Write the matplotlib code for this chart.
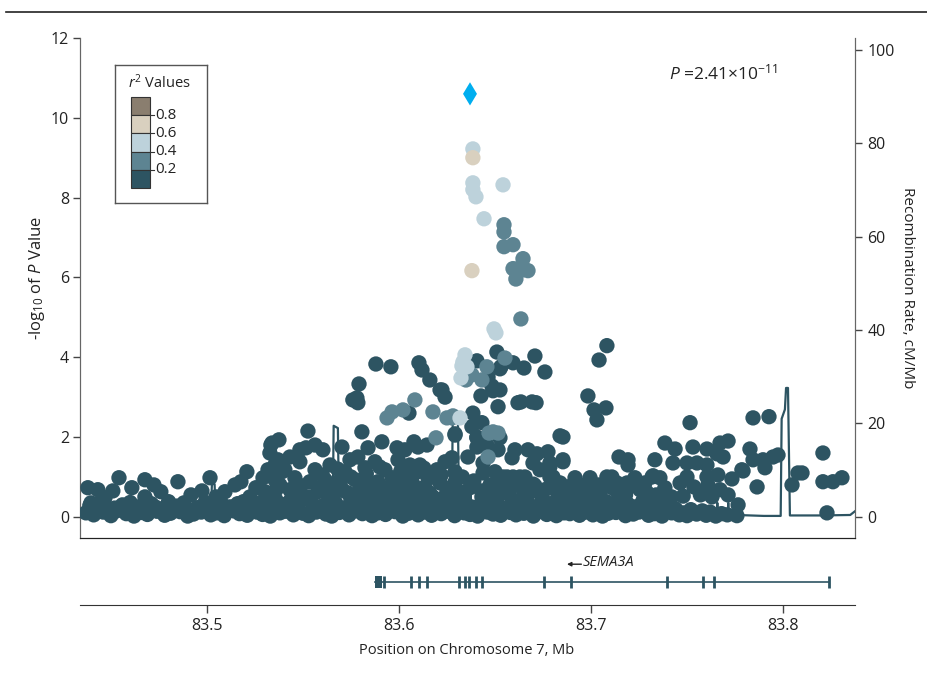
import matplotlib
matplotlib.use("Agg")
import matplotlib.pyplot as plt
from matplotlib.patches import Rectangle

plt.rcParams['font.family'] = ['Open Sans', 'DejaVu Sans']
plt.rcParams['mathtext.fontset'] = 'custom'
plt.rcParams['mathtext.rm'] = 'Open Sans'
plt.rcParams['mathtext.it'] = 'Open Sans:italic'

# r2 colour classes, 0-0.2 ... 0.8-1.0
r2_colors = ['#2d5462', '#5d8492', '#bdd2db', '#d9d0bf', '#8a7e6f']
r2_ticks = ['0.2', '0.4', '0.6', '0.8']
lead_color = '#00aeef'

# index SNP (position Mb, -log10 P)
lead_snp = (83.637, 10.60)

beige_snps = [(83.6385, 9.00), (83.6380, 6.17)]

light_snps = [(83.6385, 9.22), (83.6385, 8.37), (83.6542, 8.32), (83.6385, 8.20),
              (83.6401, 8.02), (83.6443, 7.47), (83.6495, 4.71), (83.6505, 4.61),
              (83.6344, 4.06), (83.6333, 3.88), (83.6328, 3.78), (83.6354, 3.76),
              (83.6323, 3.48), (83.6318, 2.48)]

mid_snps = [(83.6547, 7.32), (83.6547, 7.14), (83.6547, 6.77), (83.6594, 6.82),
            (83.6646, 6.47), (83.6594, 6.22), (83.6620, 6.22), (83.6646, 6.19),
            (83.6672, 6.17), (83.6609, 5.96), (83.6635, 4.96), (83.6552, 3.98),
            (83.6380, 3.56), (83.6349, 3.43), (83.6432, 3.43), (83.6458, 3.76),
            (83.6276, 2.48), (83.6490, 2.13), (83.6516, 2.10), (83.6469, 2.10),
            (83.6464, 1.50), (83.6083, 2.93), (83.5964, 2.63), (83.5938, 2.48),
            (83.6021, 2.68), (83.6177, 2.63), (83.6250, 2.48), (83.6281, 2.53),
            (83.6193, 1.98)]

dark_snps = [
    # around the peak
    (83.6406, 3.91), (83.6510, 4.13), (83.6531, 3.76), (83.6594, 3.86), (83.6651, 3.73),
    (83.6708, 4.03), (83.6760, 3.63), (83.6464, 3.50), (83.6484, 3.28), (83.6490, 3.16),
    (83.6526, 3.18), (83.6427, 3.03), (83.6516, 2.76), (83.6620, 2.86), (83.6635, 2.88),
    (83.6693, 2.88), (83.6714, 2.86), (83.6385, 2.60), (83.6240, 3.00), (83.6214, 3.18),
    (83.6292, 2.08), (83.6380, 2.26), (83.6432, 2.36), (83.6406, 1.98), (83.6276, 1.48),
    (83.6359, 1.50), (83.6839, 2.03), (83.6854, 2.00), (83.6516, 1.68), (83.6604, 1.68),
    (83.6672, 1.68), (83.6776, 1.63), (83.6589, 1.48), (83.6854, 1.43), (83.6292, 1.13),
    (83.6438, 1.10), (83.6563, 1.00), (83.6630, 1.00), (83.6708, 0.78), (83.6786, 1.00),
    (83.6906, 0.80), (83.6432, 0.50), (83.6526, 0.58), (83.7083, 4.29), (83.7042, 3.93),
    (83.6984, 3.03), (83.7016, 2.68), (83.7078, 2.73), (83.7031, 2.43), (83.6526, 3.71),
    (83.6526, 1.98), (83.6406, 2.00), (83.6406, 1.75), (83.6458, 1.80), (83.6438, 1.35),
    (83.6719, 1.58), (83.6786, 1.35), (83.6698, 1.35), (83.6500, 1.13), (83.6542, 1.00),
    (83.6594, 1.00), (83.6656, 1.00), (83.6734, 1.18), (83.6802, 1.00), (83.6786, 1.25),
    (83.6760, 0.68), (83.6823, 0.63), (83.6875, 0.60), (83.6953, 0.60), (83.7036, 0.80),
    (83.7083, 1.00), (83.7146, 1.50), (83.7193, 1.43), (83.7193, 1.30), (83.7333, 1.43),
    (83.7318, 1.00), (83.7135, 0.85), (83.7188, 0.85), (83.7255, 0.68), (83.6323, 0.55),
    (83.6854, 1.38), (83.6974, 0.78),
    # right side
    (83.7516, 2.36), (83.7385, 1.85), (83.7438, 1.70), (83.7531, 1.75), (83.7604, 1.70),
    (83.7672, 1.85), (83.7714, 1.90), (83.7656, 1.58), (83.7688, 1.50), (83.7844, 2.48),
    (83.7927, 2.51), (83.7828, 1.70), (83.7844, 1.43), (83.7896, 1.43), (83.7948, 1.50),
    (83.7974, 1.55), (83.7906, 1.23), (83.7792, 1.15), (83.7734, 0.95), (83.7865, 0.75),
    (83.8208, 1.60), (83.8208, 0.88), (83.8260, 0.88), (83.8307, 0.98), (83.8229, 0.10),
    (83.8047, 0.80), (83.8078, 1.10), (83.8099, 1.10), (83.7109, 1.00), (83.7323, 1.03),
    (83.7427, 1.35), (83.7500, 1.35), (83.7552, 1.35), (83.7604, 1.30), (83.7661, 1.05),
    (83.7604, 1.00), (83.7500, 1.00), (83.7766, 0.30), (83.7786, 1.18),
    # middle-left
    (83.5880, 3.83), (83.5958, 3.76), (83.6104, 3.86), (83.6120, 3.68), (83.6161, 3.43),
    (83.5792, 3.33), (83.5781, 2.98), (83.5760, 2.93), (83.5786, 2.86), (83.6224, 3.18),
    (83.6052, 2.60), (83.6292, 2.05), (83.5526, 2.15), (83.5375, 1.93), (83.5339, 1.85),
    (83.5516, 1.73), (83.5604, 1.68), (83.5911, 1.88), (83.5839, 1.73), (83.5990, 1.73),
    (83.6031, 1.68), (83.6078, 1.88), (83.6146, 1.80), (83.6099, 1.75), (83.5432, 1.50),
    (83.5370, 1.43), (83.5703, 1.75), (83.5786, 1.50), (83.5995, 1.43), (83.6057, 1.30),
    (83.6109, 1.30), (83.6292, 1.10), (83.5484, 1.68), (83.5563, 1.80), (83.5807, 2.13),
    (83.5406, 1.18), (83.5484, 1.38), (83.5563, 1.18), (83.5641, 1.30), (83.5719, 1.13),
    (83.5745, 1.43), (83.5823, 1.23), (83.5875, 1.38), (83.5927, 1.18), (83.5964, 0.98),
    (83.6031, 1.05), (83.6099, 1.13), (83.6151, 0.98), (83.6198, 1.18), (83.6240, 1.38),
    (83.5458, 0.98), (83.5536, 0.88), (83.5615, 0.93), (83.5693, 0.80), (83.5771, 0.93),
    (83.5849, 0.80), (83.5917, 0.73), (83.6005, 0.80), (83.6068, 0.68), (83.6135, 0.75),
    (83.6214, 0.85), (83.6276, 0.73), (83.5380, 0.80), (83.5432, 0.68), (83.5391, 1.13),
    (83.5484, 0.55), (83.5578, 0.63), (83.5656, 0.55), (83.5734, 0.60), (83.5807, 0.55),
    (83.5891, 0.50), (83.5964, 0.55), (83.6042, 0.48), (83.6109, 0.55), (83.6177, 0.50),
    (83.6245, 0.55), (83.6307, 0.63),
    (83.6370, 0.73), (83.6474, 0.80), (83.6578, 0.68), (83.6630, 0.78), (83.6682, 0.63),
    (83.6839, 0.85), (83.6917, 0.98), (83.6969, 0.80), (83.6995, 0.98), (83.7047, 0.63),
    (83.7109, 0.73), (83.7229, 0.98), (83.7281, 0.85), (83.7359, 0.98), (83.7385, 0.73),
    (83.7464, 0.85), (83.7536, 0.75), (83.7609, 0.80), (83.7672, 0.68), (83.7714, 0.55),
    (83.560, 1.05), (83.568, 1.20), (83.575, 1.00), (83.583, 1.08), (83.590, 1.25),
    (83.601, 1.15), (83.613, 1.22), (83.622, 1.05), (83.633, 1.00),
    # left side
    (83.4380, 0.73), (83.4432, 0.68), (83.4510, 0.65), (83.4542, 0.98), (83.4609, 0.73),
    (83.4677, 0.93), (83.4724, 0.80), (83.4677, 0.50), (83.4849, 0.88), (83.4974, 0.65),
    (83.5016, 0.98), (83.5094, 0.63), (83.5146, 0.80), (83.5177, 0.88), (83.5208, 1.13),
    (83.5255, 0.73), (83.5292, 0.98), (83.5318, 1.18), (83.5328, 1.60), (83.5333, 1.80),
    (83.4396, 0.35), (83.4469, 0.48), (83.4760, 0.63), (83.4917, 0.55), (83.5047, 0.50),
    (83.5224, 0.50), (83.5302, 0.63), (83.5354, 1.30), (83.5354, 0.93),
]

# dense band of weak SNPs along the baseline
band_snps = [
    (83.437, 0.10), (83.441, 0.05), (83.446, 0.12), (83.450, 0.03), (83.453, 0.15),
    (83.458, 0.08), (83.462, 0.02), (83.466, 0.11), (83.469, 0.06), (83.474, 0.14),
    (83.478, 0.04), (83.481, 0.09), (83.486, 0.13), (83.490, 0.02), (83.493, 0.07),
    (83.497, 0.12), (83.502, 0.05), (83.505, 0.10), (83.509, 0.03), (83.514, 0.15),
    (83.517, 0.08), (83.521, 0.04), (83.526, 0.12), (83.529, 0.06), (83.533, 0.02),
    (83.538, 0.10), (83.541, 0.14), (83.545, 0.05), (83.550, 0.09), (83.553, 0.03),
    (83.557, 0.12), (83.562, 0.07), (83.565, 0.02), (83.569, 0.11), (83.574, 0.05),
    (83.577, 0.15), (83.581, 0.08), (83.586, 0.03), (83.589, 0.10), (83.593, 0.06),
    (83.598, 0.13), (83.602, 0.02), (83.605, 0.09), (83.610, 0.05), (83.613, 0.12),
    (83.617, 0.04), (83.622, 0.08), (83.625, 0.14), (83.629, 0.03), (83.634, 0.10),
    (83.637, 0.06), (83.641, 0.02), (83.646, 0.12), (83.649, 0.07), (83.653, 0.04),
    (83.658, 0.11), (83.661, 0.05), (83.665, 0.09), (83.670, 0.02), (83.673, 0.13),
    (83.677, 0.06), (83.682, 0.03), (83.686, 0.10), (83.689, 0.08), (83.694, 0.04),
    (83.697, 0.12), (83.701, 0.05), (83.706, 0.02), (83.709, 0.09), (83.713, 0.11),
    (83.718, 0.03), (83.722, 0.07), (83.725, 0.12), (83.730, 0.04), (83.733, 0.08),
    (83.737, 0.02), (83.742, 0.10), (83.746, 0.05), (83.750, 0.03), (83.755, 0.07),
    (83.760, 0.04), (83.765, 0.02), (83.771, 0.05), (83.776, 0.03),
    (83.443, 0.18), (83.452, 0.22), (83.459, 0.16), (83.467, 0.20), (83.473, 0.25),
    (83.482, 0.18), (83.487, 0.22), (83.492, 0.16), (83.500, 0.20), (83.506, 0.24),
    (83.511, 0.16), (83.520, 0.20), (83.527, 0.18), (83.534, 0.22), (83.546, 0.18),
    (83.556, 0.20), (83.568, 0.18), (83.578, 0.22), (83.588, 0.18), (83.597, 0.20),
    (83.608, 0.17), (83.618, 0.22), (83.628, 0.18), (83.638, 0.20), (83.650, 0.18),
    (83.660, 0.22), (83.672, 0.18), (83.683, 0.20), (83.693, 0.16), (83.704, 0.20),
    (83.716, 0.18), (83.726, 0.22), (83.736, 0.16), (83.748, 0.10), (83.762, 0.12),
    (83.768, 0.08),
    (83.439, 0.28), (83.444, 0.35), (83.448, 0.22), (83.456, 0.30), (83.460, 0.36),
    (83.464, 0.25), (83.471, 0.33), (83.476, 0.20), (83.480, 0.38), (83.484, 0.27),
    (83.488, 0.35), (83.495, 0.23), (83.499, 0.36), (83.503, 0.30), (83.507, 0.40),
    (83.512, 0.25), (83.516, 0.33), (83.519, 0.38), (83.524, 0.22), (83.528, 0.36),
    (83.531, 0.28), (83.536, 0.42), (83.540, 0.30), (83.543, 0.38), (83.547, 0.24),
    (83.551, 0.45), (83.555, 0.32), (83.560, 0.27), (83.564, 0.40), (83.567, 0.35),
    (83.571, 0.22), (83.575, 0.44), (83.579, 0.30), (83.583, 0.38), (83.587, 0.25),
    (83.591, 0.42), (83.595, 0.33), (83.600, 0.28), (83.603, 0.40), (83.607, 0.35),
    (83.611, 0.22), (83.615, 0.45), (83.619, 0.30), (83.623, 0.38), (83.627, 0.26),
    (83.631, 0.41), (83.635, 0.33), (83.639, 0.24), (83.644, 0.40), (83.648, 0.30),
    (83.651, 0.36), (83.655, 0.22), (83.659, 0.43), (83.663, 0.30), (83.667, 0.37),
    (83.671, 0.25), (83.675, 0.42), (83.679, 0.33), (83.684, 0.28), (83.687, 0.40),
    (83.691, 0.35), (83.695, 0.23), (83.699, 0.44), (83.703, 0.30), (83.708, 0.38),
    (83.711, 0.26), (83.715, 0.41), (83.719, 0.33), (83.723, 0.25), (83.727, 0.40),
    (83.732, 0.30), (83.735, 0.36), (83.740, 0.24), (83.744, 0.20), (83.752, 0.18),
    (83.758, 0.15),
    (83.532, 0.55), (83.536, 0.68), (83.544, 0.62), (83.549, 0.78), (83.553, 0.50),
    (83.558, 0.72), (83.562, 0.60), (83.567, 0.85), (83.571, 0.66), (83.576, 0.52),
    (83.580, 0.75), (83.585, 0.63), (83.589, 0.88), (83.593, 0.58), (83.598, 0.70),
    (83.602, 0.62), (83.607, 0.85), (83.612, 0.70), (83.616, 0.60), (83.620, 0.95),
    (83.625, 0.70), (83.629, 0.85), (83.634, 0.62), (83.639, 0.90), (83.643, 0.65),
    (83.648, 0.55), (83.652, 0.85), (83.656, 0.60), (83.661, 0.88), (83.665, 0.55),
    (83.670, 0.82), (83.674, 0.55), (83.679, 0.78), (83.683, 0.50), (83.688, 0.75),
    (83.692, 0.55), (83.697, 0.68), (83.701, 0.50), (83.706, 0.78), (83.714, 0.60),
    (83.718, 0.55), (83.722, 0.78), (83.729, 0.62), (83.734, 0.55), (83.738, 0.62),
    (83.742, 0.50), (83.748, 0.52), (83.757, 0.55), (83.763, 0.50),
]

# recombination rate (Mb, cM/Mb)
recomb_pos = [83.434, 83.450, 83.470, 83.490, 83.5020, 83.5026, 83.5040, 83.5045, 83.520,
              83.540, 83.555, 83.5655, 83.5660, 83.5682, 83.5688, 83.580, 83.600, 83.615,
              83.6275, 83.6280, 83.6307, 83.6313, 83.6368, 83.6372, 83.6378, 83.650,
              83.6712, 83.6716, 83.6720, 83.690, 83.720, 83.7655, 83.7658, 83.7661,
              83.7712, 83.7715, 83.7718, 83.774, 83.776, 83.790, 83.7988, 83.7993,
              83.8010, 83.8016, 83.8026, 83.8036, 83.820, 83.835, 83.8375]
recomb_rate = [0.5, 0.6, 0.8, 0.7, 0.8, 7.0, 7.0, 0.8, 1.0,
               1.2, 1.0, 1.0, 19.5, 19.0, 1.5, 1.5, 0.6, 0.4,
               0.5, 21.0, 21.0, 1.0, 1.0, 5.0, 1.0, 0.5,
               0.8, 4.0, 0.8, 0.5, 0.3, 0.3, 3.0, 0.5,
               0.5, 3.0, 0.5, 1.5, 0.4, 0.2, 0.2, 21.0,
               23.0, 27.6, 27.6, 0.3, 0.3, 0.4, 1.2]

# SEMA3A gene model
gene_start, gene_end = 83.5875, 83.8240
exons = [83.5922, 83.6063, 83.6104, 83.6146, 83.6313, 83.6344, 83.6365, 83.6401,
         83.6432, 83.6755, 83.6896, 83.7396, 83.7583, 83.7641, 83.8240]
first_exon = (83.5875, 83.5911)

xlim = (83.4339, 83.8375)
dark = r2_colors[0]
txt = '#222222'

W, H = 928, 677
fig = plt.figure(figsize=(W / 100, H / 100), dpi=100)

def fx(px):
    return px / W

def fy(py):
    return 1 - py / H

ax = fig.add_axes([fx(80), fy(538), 775 / W, 500 / H])
ax2 = ax.twinx()
ax.set_zorder(ax2.get_zorder() + 1)
ax.patch.set_visible(False)

ax2.plot(recomb_pos, recomb_rate, color=dark, lw=1.6, zorder=1)

def scatter(pts, color):
    xs = [p[0] for p in pts]
    ys = [p[1] for p in pts]
    ax.scatter(xs, ys, s=122, color=color, edgecolors='none', zorder=3)

scatter(band_snps, r2_colors[0])
scatter(dark_snps, r2_colors[0])
scatter(mid_snps, r2_colors[1])
scatter(light_snps, r2_colors[2])
scatter(beige_snps, r2_colors[3])
ax.scatter([lead_snp[0]], [lead_snp[1]], marker='d', s=140, color=lead_color,
           edgecolors='none', zorder=5)

ax.set_xlim(*xlim)
ax.set_ylim(-0.53, 12)
ax2.set_ylim(-0.53 * 8.544, 12 * 8.544)
ax.set_xticks([])
ax.set_yticks(range(0, 13, 2))
ax2.set_yticks(range(0, 101, 20))

for a in (ax, ax2):
    a.spines['top'].set_visible(False)
    a.spines['left'].set_color('#666666')
    a.spines['right'].set_color('#666666')
    a.spines['bottom'].set_color('#222222')
    a.tick_params(axis='y', length=5, width=1, color='#444444', labelsize=11.5,
                  labelcolor=txt, pad=3)
ax2.tick_params(axis='y', pad=4)

fig.text(fx(37), fy(278), r'-log$_{10}$ of $P$ Value', rotation=90, ha='center',
         va='center', fontsize=12, color=txt)
fig.text(fx(908), fy(288), 'Recombination Rate, cM/Mb', rotation=270, ha='center',
         va='center', fontsize=11, color=txt)
fig.text(fx(723), fy(73), r'$P$ =2.41×10$^{-11}$', ha='center', va='center',
         fontsize=12.5, color=txt)

# r2 legend
leg = fig.add_axes([fx(115), fy(203), 92 / W, 138 / H])
leg.set_xlim(0, 92)
leg.set_ylim(138, 0)
leg.set_xticks([])
leg.set_yticks([])
for s in leg.spines.values():
    s.set_color('#555555')
    s.set_linewidth(1)
leg.text(44, 18, r'$r^2$ Values', ha='center', va='center', fontsize=10.5, color=txt)
seg = 18.2
for i, c in enumerate(reversed(r2_colors)):
    leg.add_patch(Rectangle((16, 32 + i * seg), 19, seg, facecolor=c,
                            edgecolor='#333333', lw=0.8))
for i, lab in enumerate(reversed(r2_ticks)):
    yb = 32 + (i + 1) * seg
    leg.plot([35, 39], [yb, yb], color='#333333', lw=0.8)
    leg.text(40, yb, lab, ha='left', va='center', fontsize=11, color=txt)

# gene track
gax = fig.add_axes([fx(80), fy(605), 775 / W, 60 / H])
gax.set_xlim(*xlim)
gax.set_ylim(0, 1)
gy = (605 - 582) / 60
gax.plot([gene_start, gene_end], [gy, gy], color=dark, lw=1.2)
gax.add_patch(Rectangle((first_exon[0], gy - 0.1), first_exon[1] - first_exon[0], 0.2,
                        facecolor=dark, edgecolor='none'))
gax.vlines(exons, gy - 0.1, gy + 0.1, color=dark, lw=2)
gax.text(83.6958, 0.70, 'SEMA3A', style='italic', ha='left', va='center',
         fontsize=10.5, color=txt)
gax.annotate('', xy=(83.6875, 0.68), xytext=(83.6950, 0.68),
             arrowprops=dict(arrowstyle='-|>', color=txt, lw=1,
                             mutation_scale=6, shrinkA=0, shrinkB=0))
for k in ('top', 'left', 'right'):
    gax.spines[k].set_visible(False)
gax.spines['bottom'].set_color('#333333')
gax.set_yticks([])
gax.set_xticks([83.5, 83.6, 83.7, 83.8])
gax.set_xticklabels(['83.5', '83.6', '83.7', '83.8'])
gax.tick_params(axis='x', length=6, width=1, color='#444444', labelsize=11.5,
                labelcolor=txt, pad=3)

fig.text(fx(467), fy(650), 'Position on Chromosome 7, Mb', ha='center', va='center',
         fontsize=10.5, color=txt)

# caption rule at the top
fig.add_artist(plt.Line2D([fx(6), 1], [fy(12), fy(12)], color='#222222', lw=1.2))

fig.savefig('out.png', dpi=100)
